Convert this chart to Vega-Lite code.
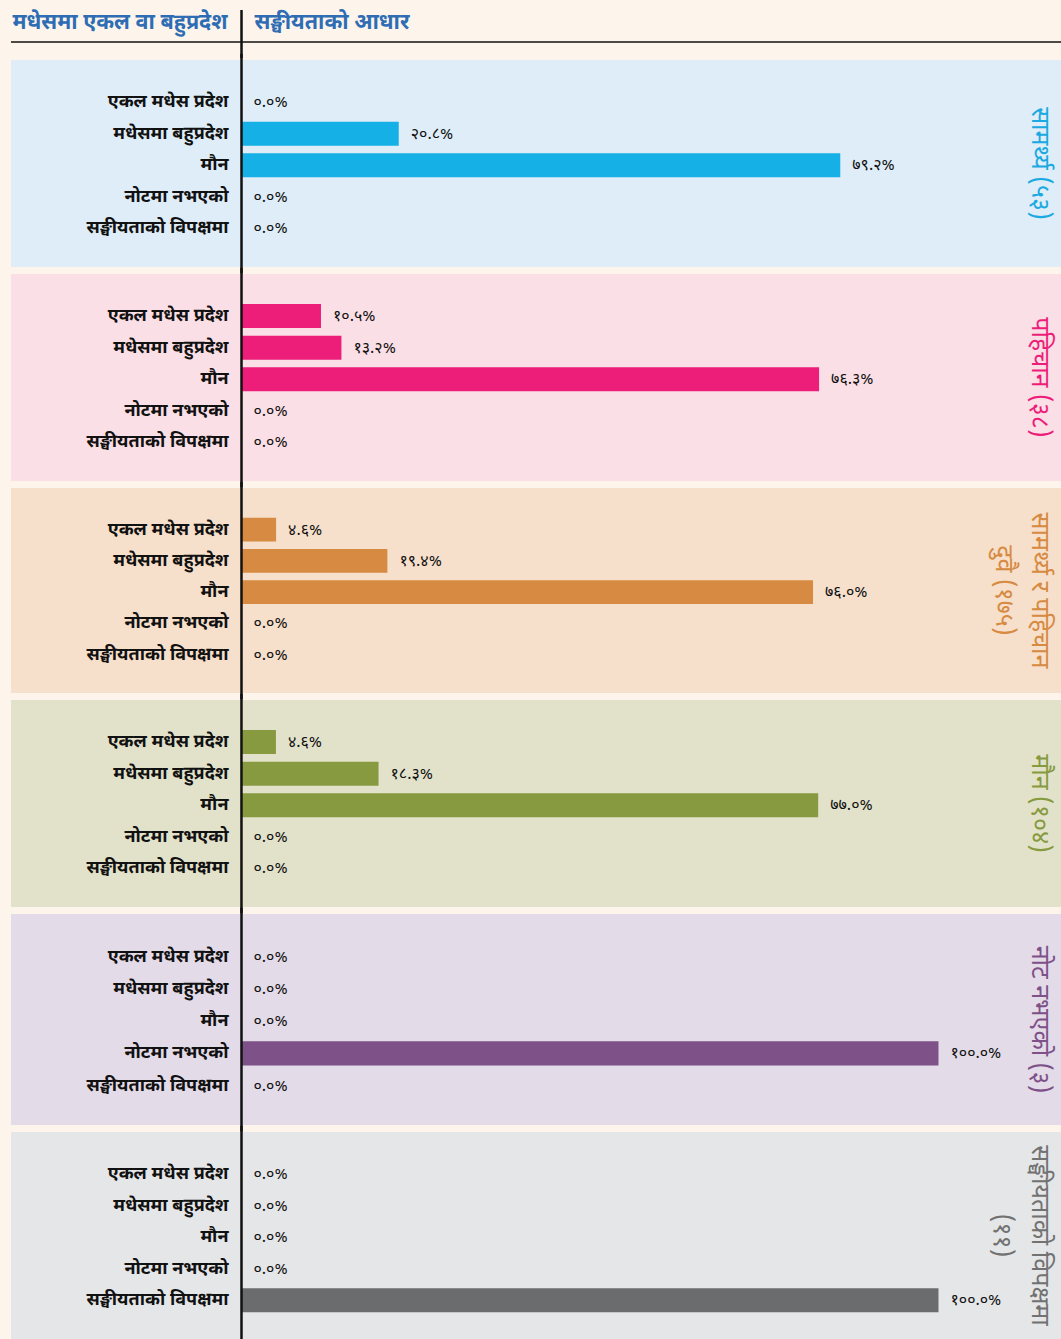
{
  "$schema": "https://vega.github.io/schema/vega-lite/v6.json",
  "background": "#fdf5ec",
  "padding": {"left": 10, "top": 0, "right": 0, "bottom": 0},
  "spacing": 7,
  "bounds": "flush",
  "config": {"view": {"stroke": null}, "font": "Noto Sans Devanagari, Noto Sans, sans-serif"},
  "data": {"values": [
    {"panel": "p1", "cat": "एकल मधेस प्रदेश", "v": 0, "lab": "०.०%"},
    {"panel": "p1", "cat": "मधेसमा बहुप्रदेश", "v": 20.8, "lab": "२०.८%"},
    {"panel": "p1", "cat": "मौन", "v": 79.2, "lab": "७९.२%"},
    {"panel": "p1", "cat": "नोटमा नभएको", "v": 0, "lab": "०.०%"},
    {"panel": "p1", "cat": "सङ्घीयताको विपक्षमा", "v": 0, "lab": "०.०%"},
    {"panel": "p2", "cat": "एकल मधेस प्रदेश", "v": 10.5, "lab": "१०.५%"},
    {"panel": "p2", "cat": "मधेसमा बहुप्रदेश", "v": 13.2, "lab": "१३.२%"},
    {"panel": "p2", "cat": "मौन", "v": 76.3, "lab": "७६.३%"},
    {"panel": "p2", "cat": "नोटमा नभएको", "v": 0, "lab": "०.०%"},
    {"panel": "p2", "cat": "सङ्घीयताको विपक्षमा", "v": 0, "lab": "०.०%"},
    {"panel": "p3", "cat": "एकल मधेस प्रदेश", "v": 4.6, "lab": "४.६%"},
    {"panel": "p3", "cat": "मधेसमा बहुप्रदेश", "v": 19.4, "lab": "१९.४%"},
    {"panel": "p3", "cat": "मौन", "v": 76.0, "lab": "७६.०%"},
    {"panel": "p3", "cat": "नोटमा नभएको", "v": 0, "lab": "०.०%"},
    {"panel": "p3", "cat": "सङ्घीयताको विपक्षमा", "v": 0, "lab": "०.०%"},
    {"panel": "p4", "cat": "एकल मधेस प्रदेश", "v": 4.6, "lab": "४.६%"},
    {"panel": "p4", "cat": "मधेसमा बहुप्रदेश", "v": 18.3, "lab": "१८.३%"},
    {"panel": "p4", "cat": "मौन", "v": 77.0, "lab": "७७.०%"},
    {"panel": "p4", "cat": "नोटमा नभएको", "v": 0, "lab": "०.०%"},
    {"panel": "p4", "cat": "सङ्घीयताको विपक्षमा", "v": 0, "lab": "०.०%"},
    {"panel": "p5", "cat": "एकल मधेस प्रदेश", "v": 0, "lab": "०.०%"},
    {"panel": "p5", "cat": "मधेसमा बहुप्रदेश", "v": 0, "lab": "०.०%"},
    {"panel": "p5", "cat": "मौन", "v": 0, "lab": "०.०%"},
    {"panel": "p5", "cat": "नोटमा नभएको", "v": 100, "lab": "१००.०%"},
    {"panel": "p5", "cat": "सङ्घीयताको विपक्षमा", "v": 0, "lab": "०.०%"},
    {"panel": "p6", "cat": "एकल मधेस प्रदेश", "v": 0, "lab": "०.०%"},
    {"panel": "p6", "cat": "मधेसमा बहुप्रदेश", "v": 0, "lab": "०.०%"},
    {"panel": "p6", "cat": "मौन", "v": 0, "lab": "०.०%"},
    {"panel": "p6", "cat": "नोटमा नभएको", "v": 0, "lab": "०.०%"},
    {"panel": "p6", "cat": "सङ्घीयताको विपक्षमा", "v": 100, "lab": "१००.०%"}
  ]},
  "vconcat": [
    {
      "width": 1051, "height": 53,
      "layer": [
        {"data": {"values": [{"t": "मधेसमा एकल वा बहुप्रदेश"}]},
         "mark": {"type": "text", "align": "right", "dx": -14, "fontSize": 21.5, "fontWeight": "bold", "color": "#2e6db4"},
         "encoding": {"x": {"datum": 0, "type": "quantitative", "scale": {"domain": [-30.49, 108.53], "nice": false, "zero": false}, "axis": null},
                      "y": {"datum": 23, "type": "quantitative", "scale": {"domain": [0, 53], "reverse": true, "nice": false}, "axis": null},
                      "text": {"field": "t"}}},
        {"data": {"values": [{"t": "सङ्घीयताको आधार"}]},
         "mark": {"type": "text", "align": "left", "dx": 13, "fontSize": 21.5, "fontWeight": "bold", "color": "#2e6db4"},
         "encoding": {"x": {"datum": 0, "type": "quantitative"},
                      "y": {"datum": 23, "type": "quantitative"},
                      "text": {"field": "t"}}},
        {"data": {"values": [{}]},
         "mark": {"type": "rule", "color": "#111111", "strokeWidth": 1.5},
         "encoding": {"x": {"datum": -30.49, "type": "quantitative"}, "x2": {"datum": 108.53},
                      "y": {"datum": 42, "type": "quantitative"}}},
        {"data": {"values": [{}]},
         "mark": {"type": "rule", "color": "#111111", "strokeWidth": 2.5},
         "encoding": {"x": {"datum": 0, "type": "quantitative"},
                      "y": {"datum": 10, "type": "quantitative"}, "y2": {"datum": 58}}}
      ]
    },
    {
      "width": 1051, "height": 207,
      "view": {"fill": "#deedf8"},
      "resolve": {"scale": {"y": "independent"}},
      "layer": [
        {"transform": [{"filter": "datum.panel === 'p1'"}],
         "mark": {"type": "bar", "color": "#15b0e5"},
         "encoding": {"y": {"field": "cat", "type": "nominal", "sort": null, "axis": null, "scale": {"type": "band", "domain": ["एकल मधेस प्रदेश", "मधेसमा बहुप्रदेश", "मौन", "नोटमा नभएको", "सङ्घीयताको विपक्षमा"], "paddingInner": 0.24, "paddingOuter": 0.9, "align": 0.53}},
                      "x": {"field": "v", "type": "quantitative", "axis": null, "scale": {"domain": [-30.49, 108.53], "nice": false, "zero": false}}}},
        {"transform": [{"filter": "datum.panel === 'p1'"}],
         "mark": {"type": "text", "align": "left", "dx": 12, "fontSize": 16, "color": "#111111"},
         "encoding": {"y": {"field": "cat", "type": "nominal", "sort": null, "axis": null, "scale": {"type": "band", "domain": ["एकल मधेस प्रदेश", "मधेसमा बहुप्रदेश", "मौन", "नोटमा नभएको", "सङ्घीयताको विपक्षमा"], "paddingInner": 0.24, "paddingOuter": 0.9, "align": 0.53}},
                      "x": {"field": "v", "type": "quantitative"}, "text": {"field": "lab"}}},
        {"transform": [{"filter": "datum.panel === 'p1'"}],
         "mark": {"type": "text", "align": "right", "dx": -13, "fontSize": 18, "fontWeight": "bold", "color": "#111111"},
         "encoding": {"y": {"field": "cat", "type": "nominal", "sort": null, "axis": null, "scale": {"type": "band", "domain": ["एकल मधेस प्रदेश", "मधेसमा बहुप्रदेश", "मौन", "नोटमा नभएको", "सङ्घीयताको विपक्षमा"], "paddingInner": 0.24, "paddingOuter": 0.9, "align": 0.53}},
                      "x": {"datum": 0, "type": "quantitative"}, "text": {"field": "cat"}}},
        {"data": {"values": [{"panel": "p1", "t": ["सामर्थ्य (५३)"]}]},
         "mark": {"type": "text", "angle": 90, "align": "center", "baseline": "top", "fontSize": 25, "lineHeight": 36, "color": "#1aa9e0"},
         "encoding": {"x": {"datum": 107.2, "type": "quantitative"}, "y": {"datum": "c", "type": "nominal", "axis": null}, "text": {"field": "t"}}},
        {"data": {"values": [{"panel": "p1"}]},
         "mark": {"type": "rule", "color": "#111111", "strokeWidth": 2.5},
         "encoding": {"x": {"datum": 0, "type": "quantitative"},
                      "y": {"datum": -0.03, "type": "quantitative", "axis": null, "scale": {"domain": [0, 1], "nice": false}}, "y2": {"datum": 1.03}}}
      ]
    },
    {
      "width": 1051, "height": 207,
      "view": {"fill": "#fbdfe6"},
      "resolve": {"scale": {"y": "independent"}},
      "layer": [
        {"transform": [{"filter": "datum.panel === 'p2'"}],
         "mark": {"type": "bar", "color": "#ed1e79"},
         "encoding": {"y": {"field": "cat", "type": "nominal", "sort": null, "axis": null, "scale": {"type": "band", "domain": ["एकल मधेस प्रदेश", "मधेसमा बहुप्रदेश", "मौन", "नोटमा नभएको", "सङ्घीयताको विपक्षमा"], "paddingInner": 0.24, "paddingOuter": 0.9, "align": 0.53}},
                      "x": {"field": "v", "type": "quantitative", "axis": null, "scale": {"domain": [-30.45, 108.39], "nice": false, "zero": false}}}},
        {"transform": [{"filter": "datum.panel === 'p2'"}],
         "mark": {"type": "text", "align": "left", "dx": 12, "fontSize": 16, "color": "#111111"},
         "encoding": {"y": {"field": "cat", "type": "nominal", "sort": null, "axis": null, "scale": {"type": "band", "domain": ["एकल मधेस प्रदेश", "मधेसमा बहुप्रदेश", "मौन", "नोटमा नभएको", "सङ्घीयताको विपक्षमा"], "paddingInner": 0.24, "paddingOuter": 0.9, "align": 0.53}},
                      "x": {"field": "v", "type": "quantitative"}, "text": {"field": "lab"}}},
        {"transform": [{"filter": "datum.panel === 'p2'"}],
         "mark": {"type": "text", "align": "right", "dx": -13, "fontSize": 18, "fontWeight": "bold", "color": "#111111"},
         "encoding": {"y": {"field": "cat", "type": "nominal", "sort": null, "axis": null, "scale": {"type": "band", "domain": ["एकल मधेस प्रदेश", "मधेसमा बहुप्रदेश", "मौन", "नोटमा नभएको", "सङ्घीयताको विपक्षमा"], "paddingInner": 0.24, "paddingOuter": 0.9, "align": 0.53}},
                      "x": {"datum": 0, "type": "quantitative"}, "text": {"field": "cat"}}},
        {"data": {"values": [{"panel": "p2", "t": ["पहिचान (३८)"]}]},
         "mark": {"type": "text", "angle": 90, "align": "center", "baseline": "top", "fontSize": 25, "lineHeight": 36, "color": "#ed1e79"},
         "encoding": {"x": {"datum": 107.06, "type": "quantitative"}, "y": {"datum": "c", "type": "nominal", "axis": null}, "text": {"field": "t"}}},
        {"data": {"values": [{"panel": "p2"}]},
         "mark": {"type": "rule", "color": "#111111", "strokeWidth": 2.5},
         "encoding": {"x": {"datum": 0, "type": "quantitative"},
                      "y": {"datum": -0.03, "type": "quantitative", "axis": null, "scale": {"domain": [0, 1], "nice": false}}, "y2": {"datum": 1.03}}}
      ]
    },
    {
      "width": 1051, "height": 205,
      "view": {"fill": "#f6dfcb"},
      "resolve": {"scale": {"y": "independent"}},
      "layer": [
        {"transform": [{"filter": "datum.panel === 'p3'"}],
         "mark": {"type": "bar", "color": "#d78a41"},
         "encoding": {"y": {"field": "cat", "type": "nominal", "sort": null, "axis": null, "scale": {"type": "band", "domain": ["एकल मधेस प्रदेश", "मधेसमा बहुप्रदेश", "मौन", "नोटमा नभएको", "सङ्घीयताको विपक्षमा"], "paddingInner": 0.24, "paddingOuter": 0.9, "align": 0.53}},
                      "x": {"field": "v", "type": "quantitative", "axis": null, "scale": {"domain": [-30.65, 109.11], "nice": false, "zero": false}}}},
        {"transform": [{"filter": "datum.panel === 'p3'"}],
         "mark": {"type": "text", "align": "left", "dx": 12, "fontSize": 16, "color": "#111111"},
         "encoding": {"y": {"field": "cat", "type": "nominal", "sort": null, "axis": null, "scale": {"type": "band", "domain": ["एकल मधेस प्रदेश", "मधेसमा बहुप्रदेश", "मौन", "नोटमा नभएको", "सङ्घीयताको विपक्षमा"], "paddingInner": 0.24, "paddingOuter": 0.9, "align": 0.53}},
                      "x": {"field": "v", "type": "quantitative"}, "text": {"field": "lab"}}},
        {"transform": [{"filter": "datum.panel === 'p3'"}],
         "mark": {"type": "text", "align": "right", "dx": -13, "fontSize": 18, "fontWeight": "bold", "color": "#111111"},
         "encoding": {"y": {"field": "cat", "type": "nominal", "sort": null, "axis": null, "scale": {"type": "band", "domain": ["एकल मधेस प्रदेश", "मधेसमा बहुप्रदेश", "मौन", "नोटमा नभएको", "सङ्घीयताको विपक्षमा"], "paddingInner": 0.24, "paddingOuter": 0.9, "align": 0.53}},
                      "x": {"datum": 0, "type": "quantitative"}, "text": {"field": "cat"}}},
        {"data": {"values": [{"panel": "p3", "t": ["सामर्थ्य र पहिचान", "दुवै (१७५)"]}]},
         "mark": {"type": "text", "angle": 90, "align": "center", "baseline": "top", "fontSize": 25, "lineHeight": 36, "color": "#d78a41"},
         "encoding": {"x": {"datum": 107.78, "type": "quantitative"}, "y": {"datum": "c", "type": "nominal", "axis": null}, "text": {"field": "t"}}},
        {"data": {"values": [{"panel": "p3"}]},
         "mark": {"type": "rule", "color": "#111111", "strokeWidth": 2.5},
         "encoding": {"x": {"datum": 0, "type": "quantitative"},
                      "y": {"datum": -0.03, "type": "quantitative", "axis": null, "scale": {"domain": [0, 1], "nice": false}}, "y2": {"datum": 1.03}}}
      ]
    },
    {
      "width": 1051, "height": 207,
      "view": {"fill": "#e2e2cb"},
      "resolve": {"scale": {"y": "independent"}},
      "layer": [
        {"transform": [{"filter": "datum.panel === 'p4'"}],
         "mark": {"type": "bar", "color": "#879a3f"},
         "encoding": {"y": {"field": "cat", "type": "nominal", "sort": null, "axis": null, "scale": {"type": "band", "domain": ["एकल मधेस प्रदेश", "मधेसमा बहुप्रदेश", "मौन", "नोटमा नभएको", "सङ्घीयताको विपक्षमा"], "paddingInner": 0.24, "paddingOuter": 0.9, "align": 0.53}},
                      "x": {"field": "v", "type": "quantitative", "axis": null, "scale": {"domain": [-30.77, 109.55], "nice": false, "zero": false}}}},
        {"transform": [{"filter": "datum.panel === 'p4'"}],
         "mark": {"type": "text", "align": "left", "dx": 12, "fontSize": 16, "color": "#111111"},
         "encoding": {"y": {"field": "cat", "type": "nominal", "sort": null, "axis": null, "scale": {"type": "band", "domain": ["एकल मधेस प्रदेश", "मधेसमा बहुप्रदेश", "मौन", "नोटमा नभएको", "सङ्घीयताको विपक्षमा"], "paddingInner": 0.24, "paddingOuter": 0.9, "align": 0.53}},
                      "x": {"field": "v", "type": "quantitative"}, "text": {"field": "lab"}}},
        {"transform": [{"filter": "datum.panel === 'p4'"}],
         "mark": {"type": "text", "align": "right", "dx": -13, "fontSize": 18, "fontWeight": "bold", "color": "#111111"},
         "encoding": {"y": {"field": "cat", "type": "nominal", "sort": null, "axis": null, "scale": {"type": "band", "domain": ["एकल मधेस प्रदेश", "मधेसमा बहुप्रदेश", "मौन", "नोटमा नभएको", "सङ्घीयताको विपक्षमा"], "paddingInner": 0.24, "paddingOuter": 0.9, "align": 0.53}},
                      "x": {"datum": 0, "type": "quantitative"}, "text": {"field": "cat"}}},
        {"data": {"values": [{"panel": "p4", "t": ["मौन (१०४)"]}]},
         "mark": {"type": "text", "angle": 90, "align": "center", "baseline": "top", "fontSize": 25, "lineHeight": 36, "color": "#879a3f"},
         "encoding": {"x": {"datum": 108.21, "type": "quantitative"}, "y": {"datum": "c", "type": "nominal", "axis": null}, "text": {"field": "t"}}},
        {"data": {"values": [{"panel": "p4"}]},
         "mark": {"type": "rule", "color": "#111111", "strokeWidth": 2.5},
         "encoding": {"x": {"datum": 0, "type": "quantitative"},
                      "y": {"datum": -0.03, "type": "quantitative", "axis": null, "scale": {"domain": [0, 1], "nice": false}}, "y2": {"datum": 1.03}}}
      ]
    },
    {
      "width": 1051, "height": 211,
      "view": {"fill": "#e3dbe8"},
      "resolve": {"scale": {"y": "independent"}},
      "layer": [
        {"transform": [{"filter": "datum.panel === 'p5'"}],
         "mark": {"type": "bar", "color": "#7e5189"},
         "encoding": {"y": {"field": "cat", "type": "nominal", "sort": null, "axis": null, "scale": {"type": "band", "domain": ["एकल मधेस प्रदेश", "मधेसमा बहुप्रदेश", "मौन", "नोटमा नभएको", "सङ्घीयताको विपक्षमा"], "paddingInner": 0.24, "paddingOuter": 0.9, "align": 0.53}},
                      "x": {"field": "v", "type": "quantitative", "axis": null, "scale": {"domain": [-33.07, 117.72], "nice": false, "zero": false}}}},
        {"transform": [{"filter": "datum.panel === 'p5'"}],
         "mark": {"type": "text", "align": "left", "dx": 12, "fontSize": 16, "color": "#111111"},
         "encoding": {"y": {"field": "cat", "type": "nominal", "sort": null, "axis": null, "scale": {"type": "band", "domain": ["एकल मधेस प्रदेश", "मधेसमा बहुप्रदेश", "मौन", "नोटमा नभएको", "सङ्घीयताको विपक्षमा"], "paddingInner": 0.24, "paddingOuter": 0.9, "align": 0.53}},
                      "x": {"field": "v", "type": "quantitative"}, "text": {"field": "lab"}}},
        {"transform": [{"filter": "datum.panel === 'p5'"}],
         "mark": {"type": "text", "align": "right", "dx": -13, "fontSize": 18, "fontWeight": "bold", "color": "#111111"},
         "encoding": {"y": {"field": "cat", "type": "nominal", "sort": null, "axis": null, "scale": {"type": "band", "domain": ["एकल मधेस प्रदेश", "मधेसमा बहुप्रदेश", "मौन", "नोटमा नभएको", "सङ्घीयताको विपक्षमा"], "paddingInner": 0.24, "paddingOuter": 0.9, "align": 0.53}},
                      "x": {"datum": 0, "type": "quantitative"}, "text": {"field": "cat"}}},
        {"data": {"values": [{"panel": "p5", "t": ["नोट नभएको (३)"]}]},
         "mark": {"type": "text", "angle": 90, "align": "center", "baseline": "top", "fontSize": 25, "lineHeight": 36, "color": "#7e5189"},
         "encoding": {"x": {"datum": 116.28, "type": "quantitative"}, "y": {"datum": "c", "type": "nominal", "axis": null}, "text": {"field": "t"}}},
        {"data": {"values": [{"panel": "p5"}]},
         "mark": {"type": "rule", "color": "#111111", "strokeWidth": 2.5},
         "encoding": {"x": {"datum": 0, "type": "quantitative"},
                      "y": {"datum": -0.03, "type": "quantitative", "axis": null, "scale": {"domain": [0, 1], "nice": false}}, "y2": {"datum": 1.03}}}
      ]
    },
    {
      "width": 1051, "height": 207,
      "view": {"fill": "#e5e6e8"},
      "resolve": {"scale": {"y": "independent"}},
      "layer": [
        {"transform": [{"filter": "datum.panel === 'p6'"}],
         "mark": {"type": "bar", "color": "#6b6c6e"},
         "encoding": {"y": {"field": "cat", "type": "nominal", "sort": null, "axis": null, "scale": {"type": "band", "domain": ["एकल मधेस प्रदेश", "मधेसमा बहुप्रदेश", "मौन", "नोटमा नभएको", "सङ्घीयताको विपक्षमा"], "paddingInner": 0.24, "paddingOuter": 0.9, "align": 0.53}},
                      "x": {"field": "v", "type": "quantitative", "axis": null, "scale": {"domain": [-33.07, 117.72], "nice": false, "zero": false}}}},
        {"transform": [{"filter": "datum.panel === 'p6'"}],
         "mark": {"type": "text", "align": "left", "dx": 12, "fontSize": 16, "color": "#111111"},
         "encoding": {"y": {"field": "cat", "type": "nominal", "sort": null, "axis": null, "scale": {"type": "band", "domain": ["एकल मधेस प्रदेश", "मधेसमा बहुप्रदेश", "मौन", "नोटमा नभएको", "सङ्घीयताको विपक्षमा"], "paddingInner": 0.24, "paddingOuter": 0.9, "align": 0.53}},
                      "x": {"field": "v", "type": "quantitative"}, "text": {"field": "lab"}}},
        {"transform": [{"filter": "datum.panel === 'p6'"}],
         "mark": {"type": "text", "align": "right", "dx": -13, "fontSize": 18, "fontWeight": "bold", "color": "#111111"},
         "encoding": {"y": {"field": "cat", "type": "nominal", "sort": null, "axis": null, "scale": {"type": "band", "domain": ["एकल मधेस प्रदेश", "मधेसमा बहुप्रदेश", "मौन", "नोटमा नभएको", "सङ्घीयताको विपक्षमा"], "paddingInner": 0.24, "paddingOuter": 0.9, "align": 0.53}},
                      "x": {"datum": 0, "type": "quantitative"}, "text": {"field": "cat"}}},
        {"data": {"values": [{"panel": "p6", "t": ["सङ्घीयताको विपक्षमा", "(११)"]}]},
         "mark": {"type": "text", "angle": 90, "align": "center", "baseline": "top", "fontSize": 25, "lineHeight": 38, "color": "#727272"},
         "encoding": {"x": {"datum": 116.28, "type": "quantitative"}, "y": {"datum": "c", "type": "nominal", "axis": null}, "text": {"field": "t"}}},
        {"data": {"values": [{"panel": "p6"}]},
         "mark": {"type": "rule", "color": "#111111", "strokeWidth": 2.5},
         "encoding": {"x": {"datum": 0, "type": "quantitative"},
                      "y": {"datum": -0.03, "type": "quantitative", "axis": null, "scale": {"domain": [0, 1], "nice": false}}, "y2": {"datum": 1.03}}}
      ]
    }
  ]
}
